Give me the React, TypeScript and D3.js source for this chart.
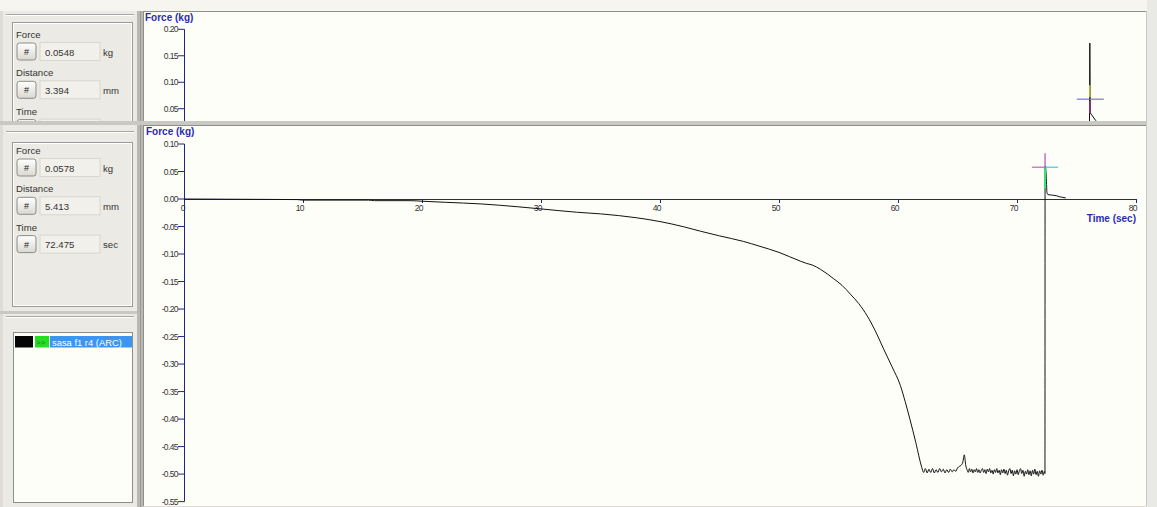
import React from "react";
import * as d3 from "d3";

// ---------- data ----------
const mainTime = [
  0, 5, 9.5, 10, 15.5, 16, 19, 20, 22, 25, 28, 30, 33, 35, 38, 40, 42, 43.4, 45, 47, 48.4, 50, 51.8, 52.3, 52.8,
  53.5, 54.6, 55.3, 56, 56.7, 57.4, 58.1, 58.8, 59.5, 60.2, 60.6, 61.0, 61.5, 62.0,
  62.15, 62.3, 62.45, 62.6, 62.75, 62.9, 63.05, 63.2, 63.35, 63.5, 63.65, 63.8, 63.95, 64.1, 64.25, 64.4, 64.55,
  64.7, 64.85, 65.0, 65.15, 65.3, 65.45, 65.57, 65.7, 65.8,
  65.9, 66.0, 66.1, 66.2, 66.3, 66.4, 66.5, 66.6, 66.7, 66.8, 66.9, 67.0, 67.1, 67.2, 67.3, 67.4, 67.5, 67.6, 67.7,
  67.8, 67.9, 68.0, 68.1, 68.2, 68.3, 68.4, 68.5, 68.6, 68.7, 68.8, 68.9, 69.0, 69.1, 69.2, 69.3, 69.4, 69.5, 69.6,
  69.7, 69.8, 69.9, 70.0, 70.1, 70.2, 70.3, 70.4, 70.5, 70.6, 70.7, 70.8, 70.9, 71.0, 71.1, 71.2, 71.3, 71.4, 71.5,
  71.6, 71.7, 71.8, 71.9, 72.0, 72.1, 72.2, 72.3, 72.35,
  72.36, 72.45, 72.52, 72.6, 73.0, 73.3, 73.6, 74.1,
];
const mainForce = [
  0, -0.0005, -0.001, -0.002, -0.002, -0.003, -0.003, -0.004, -0.006, -0.009, -0.014, -0.018, -0.024, -0.027, -0.034,
  -0.041, -0.0505, -0.0585, -0.067, -0.077, -0.086, -0.097, -0.113, -0.117, -0.12, -0.128, -0.145, -0.157, -0.173, -0.19,
  -0.212, -0.24, -0.273, -0.305, -0.339, -0.368, -0.4, -0.443, -0.488,
  -0.497, -0.49, -0.498, -0.491, -0.497, -0.49, -0.498, -0.492, -0.497, -0.49, -0.496, -0.491, -0.498, -0.492, -0.497,
  -0.491, -0.496, -0.492, -0.495, -0.489, -0.486, -0.484, -0.478, -0.465, -0.485, -0.492,
  -0.497, -0.49, -0.496, -0.491, -0.498, -0.492, -0.496, -0.49, -0.497, -0.492, -0.498, -0.493, -0.49, -0.497,
  -0.492, -0.499, -0.491, -0.496, -0.49, -0.498, -0.493, -0.5, -0.492, -0.497, -0.49, -0.498, -0.493, -0.501,
  -0.492, -0.498, -0.491, -0.499, -0.493, -0.502, -0.494, -0.49, -0.499, -0.493, -0.503, -0.494, -0.5, -0.492,
  -0.501, -0.494, -0.49, -0.499, -0.493, -0.504, -0.495, -0.5, -0.492, -0.501, -0.494, -0.503, -0.493, -0.5, -0.491,
  -0.501, -0.495, -0.504, -0.494, -0.5, -0.493, -0.502, -0.495, -0.499,
  0.06, 0.045, 0.012, 0.008, 0.007, 0.006, 0.004, 0.002,
];

const topTime = [76.05, 76.12, 76.14, 76.16, 76.6, 77.2];
const topForce = [-0.2, 0.174, 0.095, 0.042, 0.028, 0.015];

const xTicks = [0, 10, 20, 30, 40, 50, 60, 70, 80];
const mainYTicks = [0.1, 0.05, 0.0, -0.05, -0.1, -0.15, -0.2, -0.25, -0.3, -0.35, -0.4, -0.45, -0.5, -0.55];
const topYTicks = [0.2, 0.15, 0.1, 0.05, 0.0];

const mainCursor = { time: 72.36, force: 0.0578 };
const topCursor = { time: 76.12, force: 0.068 };

const topReadout = [
  { label: "Force", value: "0.0548", unit: "kg" },
  { label: "Distance", value: "3.394", unit: "mm" },
  { label: "Time", value: "", unit: "sec" },
];
const mainReadout = [
  { label: "Force", value: "0.0578", unit: "kg" },
  { label: "Distance", value: "5.413", unit: "mm" },
  { label: "Time", value: "72.475", unit: "sec" },
];
const legendItems = ["sasa f1 r4 (ARC)"];

// ---------- styles ----------
const AXIS = "#23238a";
const TITLE = "#2b2bb0";
const PANEL = "#ebeae4";
const CHARTBG = "#fefef9";
const UI_FONT = "'Liberation Sans', Arial, sans-serif";

const fmt = (v: number) => (Math.abs(v) < 1e-9 ? "0.00" : v.toFixed(2));

function Readout({ rows, y0 }: { rows: typeof mainReadout; y0: number }) {
  return (
    <g fontFamily={UI_FONT} fill="#333">
      {rows.map((r, i) => {
        const ly = y0 + i * 38.3;
        const by = ly + 5;
        return (
          <g key={r.label}>
            <text x={16} y={ly} fontSize={9.6}>{r.label}</text>
            <rect x={17} y={by} width={19} height={17} rx={2.5} fill="url(#btnGrad)" stroke="#8c8c86" />
            <text x={26.5} y={by + 12} fontSize={9} textAnchor="middle" fill="#222">#</text>
            <rect x={40} y={by - 0.5} width={60} height={18} fill="#f1f0ea" stroke="#d8d7cf" />
            <text x={45} y={by + 12.5} fontSize={9.6}>{r.value}</text>
            <text x={103} y={by + 12.5} fontSize={9.6}>{r.unit}</text>
          </g>
        );
      })}
    </g>
  );
}

export default function App() {
  const x = d3.scaleLinear().domain([0, 80]).range([184, 1136]);
  const yMain = d3.scaleLinear().domain([-0.55, 0.1]).range([501.6, 144]);
  const yTop = d3.scaleLinear().domain([0, 0.2]).range([135.2, 29.3]);

  const mainPts: [number, number][] = mainTime.map((t, i) => [t, mainForce[i]]);
  const topPts: [number, number][] = topTime.map((t, i) => [t, topForce[i]]);
  const mainLine =
    d3.line<[number, number]>().x((d) => x(d[0])).y((d) => yMain(d[1])).curve(d3.curveMonotoneX)(mainPts) || "";
  const topLine = d3.line<[number, number]>().x((d) => x(d[0])).y((d) => yTop(d[1]))(topPts) || "";

  const mcx = x(mainCursor.time);
  const mcy = yMain(mainCursor.force);
  const tcx = x(topCursor.time);
  const tcy = yTop(topCursor.force);

  return (
    <div style={{ position: "fixed", left: 0, top: 0 }}>
      <svg width={1157} height={507} style={{ display: "block" }}>
        <defs>
          <linearGradient id="btnGrad" x1="0" y1="0" x2="0" y2="1">
            <stop offset="0" stopColor="#ffffff" />
            <stop offset="1" stopColor="#d9d8d0" />
          </linearGradient>
          <clipPath id="topClip">
            <rect x={143} y={12} width={1004} height={109} />
          </clipPath>
          <clipPath id="topLeftClip">
            <rect x={0} y={0} width={143} height={121} />
          </clipPath>
          <clipPath id="mainClip">
            <rect x={143} y={125} width={1004} height={381} />
          </clipPath>
        </defs>

        {/* background */}
        <rect x={0} y={0} width={1157} height={507} fill="#dedcd4" />
        <rect x={0} y={0} width={1157} height={11} fill="#f6f5f0" />
        <rect x={1147} y={0} width={10} height={507} fill="#e9e9e6" />

        {/* ---------- top left panel ---------- */}
        <g clipPath="url(#topLeftClip)">
          <rect x={3} y={11} width={134} height={112} fill={PANEL} />
          <line x1={6} x2={134} y1={14.5} y2={14.5} stroke="#a8a8a2" />
          <line x1={6} x2={134} y1={15.5} y2={15.5} stroke="#ffffff" />
          <rect x={12.5} y={22.5} width={120} height={130} fill="none" stroke="#9a9a94" />
          <rect x={13.5} y={23.5} width={118} height={128} fill="none" stroke="#ffffff" />
          <Readout rows={topReadout} y0={38} />
        </g>

        {/* separator columns */}
        <rect x={137} y={11} width={6} height={496} fill="#b9b8b1" />
        <line x1={140.5} x2={140.5} y1={11} y2={507} stroke="#9c9b95" />
        <rect x={0} y={121} width={1147} height={4} fill="#c9c8c2" />

        {/* ---------- top chart ---------- */}
        <rect x={143} y={11} width={1004} height={110} fill={CHARTBG} />
        <line x1={143} x2={1147} y1={11.5} y2={11.5} stroke="#8e8e8e" />
        <line x1={143.5} x2={143.5} y1={11} y2={121} stroke="#8e8e8e" />
        <line x1={1146.5} x2={1146.5} y1={11} y2={121} stroke="#c8c8c8" />
        <g clipPath="url(#topClip)">
          <text x={145} y={21} fontFamily={UI_FONT} fontWeight="bold" fontSize={10} fill={TITLE}>Force (kg)</text>
          <line x1={184.5} x2={184.5} y1={yTop(0.2)} y2={122} stroke={AXIS} />
          {topYTicks.map((v) => (
            <g key={v}>
              <line x1={178} x2={184.5} y1={yTop(v)} y2={yTop(v)} stroke={AXIS} />
              <text x={178} y={yTop(v) + 3} textAnchor="end" fontFamily={UI_FONT} fontSize={8.5} letterSpacing={-0.6} fill="#333">{fmt(v)}</text>
            </g>
          ))}
          <path d={topLine} fill="none" stroke="#111" strokeWidth={1} />
          <line x1={tcx} x2={tcx} y1={tcy - 14} y2={tcy - 2} stroke="#b8c43a" strokeWidth={1.5} />
          <line x1={tcx} x2={tcx} y1={tcy + 2} y2={tcy + 14} stroke="#9a3070" strokeWidth={1.5} />
          <line x1={tcx - 13} x2={tcx + 14} y1={tcy} y2={tcy} stroke="#7575d0" strokeWidth={1.2} />
        </g>

        {/* ---------- main left panel ---------- */}
        <rect x={3} y={125} width={134} height={187} fill={PANEL} />
        <line x1={6} x2={134} y1={131.5} y2={131.5} stroke="#a8a8a2" />
        <line x1={6} x2={134} y1={132.5} y2={132.5} stroke="#ffffff" />
        <rect x={12.5} y={142.5} width={120} height={164} fill="none" stroke="#9a9a94" />
        <rect x={13.5} y={143.5} width={118} height={162} fill="none" stroke="#ffffff" />
        <Readout rows={mainReadout} y0={154} />

        {/* ---------- legend panel ---------- */}
        <rect x={0} y={311} width={137} height={3} fill="#c9c8c2" />
        <rect x={3} y={314} width={134} height={193} fill={PANEL} />
        <line x1={6} x2={134} y1={316.5} y2={316.5} stroke="#a8a8a2" />
        <line x1={6} x2={134} y1={317.5} y2={317.5} stroke="#ffffff" />
        <rect x={13.5} y={332.5} width={119} height={170} fill="#fefef8" stroke="#8e8e88" />
        {legendItems.map((name, i) => (
          <g key={name} fontFamily={UI_FONT}>
            <rect x={15} y={336 + i * 12} width={18} height={11.5} fill="#050505" />
            <rect x={35} y={336 + i * 12} width={14} height={11.5} fill="#22e020" />
            <text x={36} y={345 + i * 12} fontSize={8} fill="#446644">&gt;&gt;</text>
            <rect x={50} y={336 + i * 12} width={82} height={11.5} fill="#3d95f0" />
            <text x={52} y={345.5 + i * 12} fontSize={9.4} fill="#ffffff">{name}</text>
          </g>
        ))}

        {/* ---------- main chart ---------- */}
        <rect x={143} y={125} width={1004} height={381} fill={CHARTBG} />
        <line x1={143} x2={1147} y1={125.5} y2={125.5} stroke="#8e8e8e" />
        <line x1={143.5} x2={143.5} y1={125} y2={506} stroke="#8e8e8e" />
        <line x1={1146.5} x2={1146.5} y1={125} y2={506} stroke="#c8c8c8" />
        <g clipPath="url(#mainClip)">
          <text x={146} y={134.5} fontFamily={UI_FONT} fontWeight="bold" fontSize={10} fill={TITLE}>Force (kg)</text>
          {/* y axis */}
          <line x1={184.5} x2={184.5} y1={yMain(0.1)} y2={yMain(-0.55)} stroke={AXIS} />
          {mainYTicks.map((v) => (
            <g key={v}>
              <line x1={178} x2={184.5} y1={yMain(v)} y2={yMain(v)} stroke={AXIS} />
              <text x={178} y={yMain(v) + 3} textAnchor="end" fontFamily={UI_FONT} fontSize={8.5} letterSpacing={-0.6} fill="#333">{fmt(v)}</text>
            </g>
          ))}
          {/* x axis */}
          <line x1={184} x2={x(80)} y1={yMain(0) + 0.5} y2={yMain(0) + 0.5} stroke={AXIS} />
          {xTicks.map((t) => (
            <g key={t}>
              <line x1={x(t) + 0.5} x2={x(t) + 0.5} y1={yMain(0)} y2={yMain(0) + 4} stroke={AXIS} />
              <text x={x(t) + 1} y={yMain(0) + 11.5} textAnchor="end" fontFamily={UI_FONT} fontSize={8.5} letterSpacing={-0.6} fill="#333">{t}</text>
            </g>
          ))}
          <text x={x(80)} y={yMain(0) + 22.5} textAnchor="end" fontFamily={UI_FONT} fontWeight="bold" fontSize={10} fill={TITLE}>Time (sec)</text>

          {/* data */}
          <path d={mainLine} fill="none" stroke="#111" strokeWidth={1} />

          {/* cursor */}
          <line x1={mcx} x2={mcx} y1={mcy - 14} y2={mcy - 1} stroke="#c070c8" strokeWidth={1.5} />
          <line x1={mcx} x2={mcx} y1={mcy + 1} y2={mcy + 21} stroke="#38e07a" strokeWidth={2} />
          <line x1={mcx - 13} x2={mcx} y1={mcy} y2={mcy} stroke="#c070c0" strokeWidth={1.3} />
          <line x1={mcx} x2={mcx + 13} y1={mcy} y2={mcy} stroke="#58c8d8" strokeWidth={1.3} />
        </g>
      </svg>
    </div>
  );
}
